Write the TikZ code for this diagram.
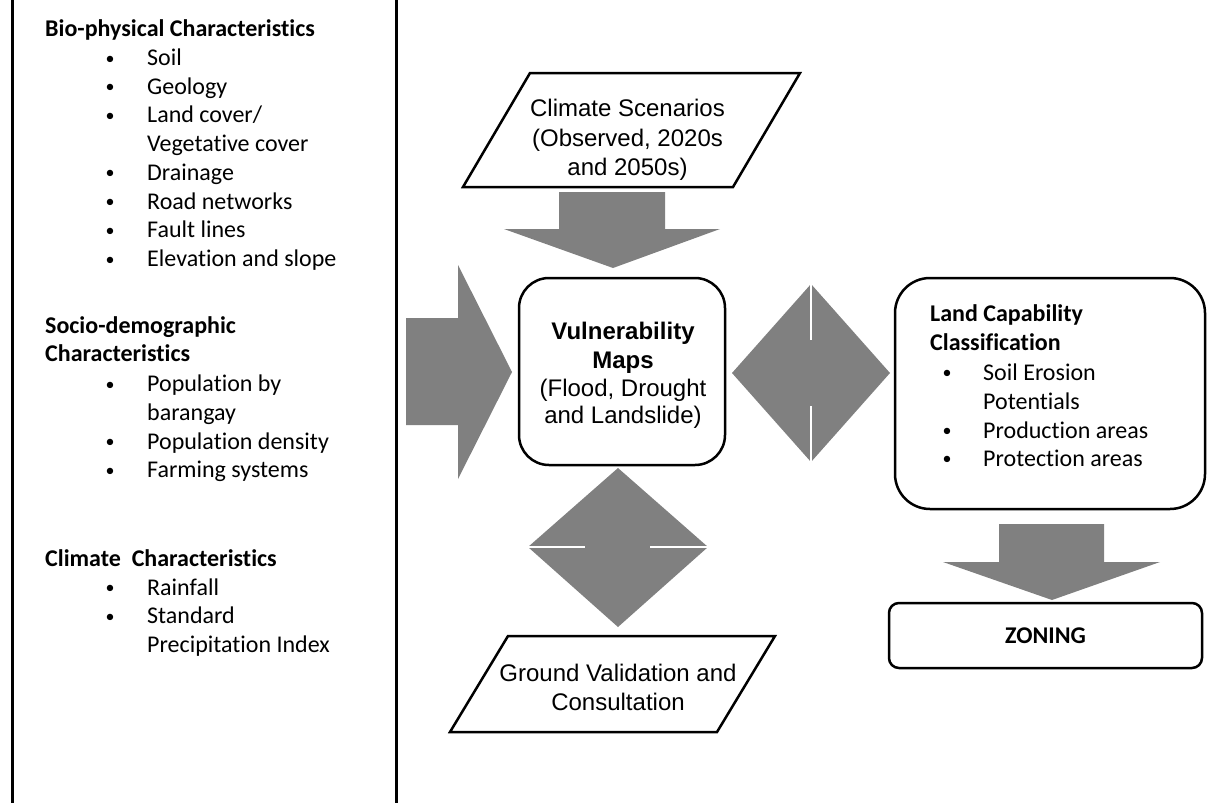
\documentclass[tikz,border=0pt]{standalone}
\usepackage{fontspec}
\setmainfont{Carlito}[Ligatures=NoCommon]
\newfontfamily\arialfont{Liberation Sans}
\definecolor{arrowgray}{HTML}{808080}
\begin{document}
\begin{tikzpicture}[x=1pt,y=-1pt,
  txt/.style={inner sep=0pt, font=\fontsize{24}{28}\selectfont, anchor=base west},
  hdr/.style={txt, font=\fontsize{24}{28}\selectfont\bfseries},
  bul/.style={inner sep=0pt, font=\fontsize{18}{22}\selectfont, anchor=base, yshift=1.4pt},
  ctxt/.style={inner sep=0pt, font=\arialfont\fontsize{24}{28}\selectfont, anchor=base},
  cbold/.style={ctxt, font=\arialfont\fontsize{24}{28}\selectfont\bfseries},
  frame/.style={line width=2.5pt, draw=black},
  blockarrow/.style={fill=arrowgray, draw=none},
  gapline/.style={draw=white, line width=1.5pt},
  divider/.style={line width=3pt, draw=black},
]
\useasboundingbox (0,0) rectangle (1207,803);
% dividers
\coordinate (d1t) at (12,0); \coordinate (d1b) at (12,803);
\coordinate (d2t) at (396,0); \coordinate (d2b) at (396,803);
\draw[divider] (d1t) -- (d1b);
\draw[divider] (d2t) -- (d2b);

% ---------- left panel ----------
\node[hdr] (h1) at (45,36) {Bio-physical Characteristics};
\foreach \t/\y [count=\i] in {Soil/65.5, Geology/94.2, Drainage/180.3, Road networks/209, Fault lines/237.7, Elevation and slope/266.4}{
  \node[bul] (b1\i) at (110,\y) {•};
  \node[txt] (t1\i) at (147,\y) {\t};
}
\node[bul] (b1l) at (110,122.9) {•};
\node[txt] (t1l) at (147,122.9) {Land cover/};
\node[txt] (t1x) at (147,151.6) {Vegetative cover};

\node[hdr] (h2a) at (45,333) {Socio-demographic};
\node[hdr] (h2b) at (45,361.5) {Characteristics};
\foreach \t/\y [count=\i] in {Population by/391.5, Population density/449, Farming systems/477.5}{
  \node[bul] (b2\i) at (110,\y) {•};
  \node[txt] (t2\i) at (147,\y) {\t};
}
\node[txt] (t2x) at (147,420) {barangay};

\node[hdr] (h3) at (45,566) {Climate\ \ Characteristics};
\foreach \t/\y [count=\i] in {Rainfall/595, Standard/623.5}{
  \node[bul] (b3\i) at (110,\y) {•};
  \node[txt] (t3\i) at (147,\y) {\t};
}
\node[txt] (t3x) at (147,652.5) {Precipitation Index};

% ---------- climate scenarios ----------
\draw[frame] (530,73) -- (800,73) -- (733,187) -- (463,187) -- cycle;
\node[ctxt] (cs1) at (627.5,116.5) {Climate Scenarios};
\node[ctxt] (cs2) at (627.5,146) {(Observed, 2020s};
\node[ctxt] (cs3) at (627.5,175.5) {and 2050s)};

% down arrow from climate
\fill[blockarrow] (559,192) -- (665,192) -- (665,229) -- (720,229) -- (613,268) -- (504,229) -- (559,229) -- cycle;

% big right arrow from left panel
\fill[blockarrow] (406,318) -- (458,318) -- (458,265) -- (512,372) -- (458,479) -- (458,425) -- (406,425) -- cycle;

% ---------- vulnerability ----------
\node[frame, rounded corners=30pt, minimum width=206pt, minimum height=187pt, inner sep=0pt] (vul) at (622,371.5) {};
\node[cbold] (v1) at (623,339.5) {Vulnerability};
\node[cbold] (v2) at (623,368.5) {Maps};
\node[ctxt] (v3) at (623,396.5) {(Flood, Drought};
\node[ctxt] (v4) at (623,423.5) {and Landslide)};

% horizontal double arrow
\fill[blockarrow] (732,373) -- (811,284) -- (890,373) -- (811,462) -- cycle;
\draw[gapline] (811,284) -- (811,340);
\draw[gapline] (811,406) -- (811,462);

% vertical double arrow
\fill[blockarrow] (618,468) -- (708,547) -- (618,627) -- (528,547) -- cycle;
\draw[gapline] (528,547) -- (585,547);
\draw[gapline] (650,547) -- (708,547);

% ---------- ground validation ----------
\draw[frame] (508,636) -- (775,636) -- (717,732) -- (450,732) -- cycle;
\node[ctxt] (g1) at (618,681.5) {Ground Validation and};
\node[ctxt] (g2) at (618,710.5) {Consultation};

% ---------- land capability ----------
\node[frame, rounded corners=35pt, minimum width=310pt, minimum height=231pt, inner sep=0pt] (lcc) at (1050,393.5) {};
\node[hdr] (lh1) at (930,321) {Land Capability};
\node[hdr] (lh2) at (930,350) {Classification};
\foreach \t/\y [count=\i] in {Soil Erosion/380, Production areas/438, Protection areas/466}{
  \node[bul] (b4\i) at (947,\y) {•};
  \node[txt] (t4\i) at (983,\y) {\t};
}
\node[txt] (t4x) at (983,409) {Potentials};

% down arrow to zoning
\fill[blockarrow] (999,524) -- (1104,524) -- (1104,562) -- (1160,562) -- (1052,600) -- (943,562) -- (999,562) -- cycle;

% ---------- zoning ----------
\node[frame, rounded corners=10pt, minimum width=313pt, minimum height=65pt, inner sep=0pt, font=\fontsize{24}{28}\selectfont\bfseries] (zon) at (1045.5,635.5) {ZONING};
\end{tikzpicture}
\end{document}
